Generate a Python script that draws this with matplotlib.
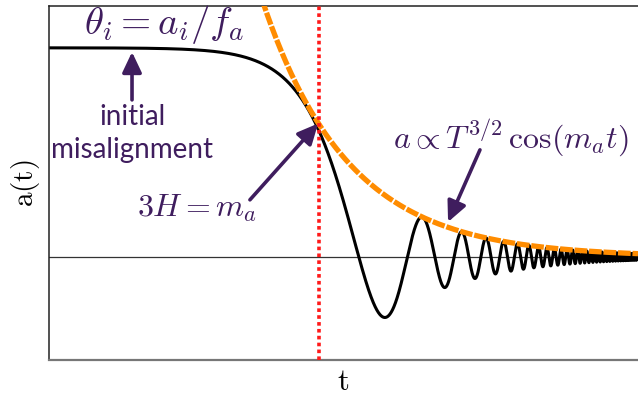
import math

import matplotlib

matplotlib.use("Agg")
import matplotlib.pyplot as plt
import numpy as np

plt.rcParams["mathtext.fontset"] = "cm"

# model parameters (units where m_a = 1, theta_i = 1)
theta_i = 1.0
m_a = 1.0
t_start = 0.001
t_stop = 215.0
dt = 0.002
t_osc = 1.5 / m_a  # 3H = m_a with H = 1/(2t)

# axis window: log t from left edge to right edge, field from bottom to top
t_lim = [0.0228, 211.0]
a_lim = [-0.493, 1.2]

purple = "#3f1d5e"


# field equation  a'' + 3H a' + m_a^2 a = 0,  H = 1/(2t)  (radiation era)
def deriv(t, a, v):
    return v, -1.5 / t * v - m_a**2 * a


n_steps = int((t_stop - t_start) / dt)
t_vals = np.empty(n_steps + 1)
a_vals = np.empty(n_steps + 1)
t, a, v = t_start, theta_i, -theta_i * m_a**2 * t_start / 2.5
t_vals[0], a_vals[0] = t, a
for i in range(1, n_steps + 1):
    k1a, k1v = deriv(t, a, v)
    k2a, k2v = deriv(t + dt / 2, a + dt / 2 * k1a, v + dt / 2 * k1v)
    k3a, k3v = deriv(t + dt / 2, a + dt / 2 * k2a, v + dt / 2 * k2v)
    k4a, k4v = deriv(t + dt, a + dt * k3a, v + dt * k3v)
    a += dt / 6 * (k1a + 2 * k2a + 2 * k3a + k4a)
    v += dt / 6 * (k1v + 2 * k2v + 2 * k3v + k4v)
    t += dt
    t_vals[i], a_vals[i] = t, a

# late-time envelope  a ~ t^{-3/4} ~ T^{3/2}
env_norm = math.gamma(1.25) * 2**0.75 / math.sqrt(math.pi)
t_env = np.logspace(np.log10(0.5), np.log10(t_lim[1]), 400)
a_env = theta_i * env_norm * (m_a * t_env) ** -0.75

a_osc = np.interp(t_osc, t_vals, a_vals)

fig = plt.figure(figsize=(6.38, 4.0), dpi=100)
ax = fig.add_axes([49 / 638, 0.1, 1 - 49 / 638, 0.885])

ax.axhline(0, color="#333333", lw=0.9, zorder=1)
ax.plot(t_vals, a_vals, color="black", lw=2.2, zorder=2)
ax.plot(t_env, a_env, color="#ff8c00", lw=3.8, dashes=(2.4, 0.35), zorder=3)
ax.axvline(t_osc, color="#ff1a1a", lw=2.6, dashes=(1.0, 0.9), zorder=4)

ax.set_xscale("log")
ax.set_xlim(t_lim)
ax.set_ylim(a_lim)
ax.set_xticks([])
ax.set_yticks([])
ax.minorticks_off()
ax.spines["right"].set_visible(False)
for side in ["left", "top"]:
    ax.spines[side].set_color("#222222")
    ax.spines[side].set_linewidth(1.1)
ax.spines["bottom"].set_color("#777777")
ax.spines["bottom"].set_linewidth(1.6)

ax.set_xlabel(r"$\mathrm{t}$", fontsize=22, labelpad=5)
ax.set_ylabel(r"$\mathrm{a(t)}$", fontsize=21, labelpad=5)

arrow = dict(arrowstyle="-|>,head_length=0.95,head_width=0.45", color=purple,
             lw=2.6, shrinkA=0, shrinkB=0, mutation_scale=13)

# annotation labels
ax.text(0.039, 1.11, r"$\theta_i = a_i/f_a$", fontsize=28, color=purple,
        ha="left", va="center")
ax.text(0.0826, 0.59, "initial\nmisalignment", fontsize=20, color=purple,
        family="Lato", ha="center", va="center", linespacing=1.3)
ax.text(0.226, 0.234, r"$3H = m_a$", fontsize=23, color=purple,
        ha="center", va="center")
ax.text(29.4, 0.569, r"$a \propto T^{3/2}\,\cos(m_a t)$", fontsize=23,
        color=purple, ha="center", va="center")

# arrows pointing at the curve
ax.annotate("", xy=(0.0826, theta_i - 0.02), xytext=(0.0826, 0.751),
            arrowprops=arrow, zorder=5)
ax.annotate("", xy=(t_osc - 0.02, a_osc + 0.035), xytext=(0.514, 0.273),
            arrowprops=arrow, zorder=5)
ax.annotate("", xy=(11.1, 0.167), xytext=(18.2, 0.512),
            arrowprops=arrow, zorder=5)

fig.savefig("out.png", dpi=100)
